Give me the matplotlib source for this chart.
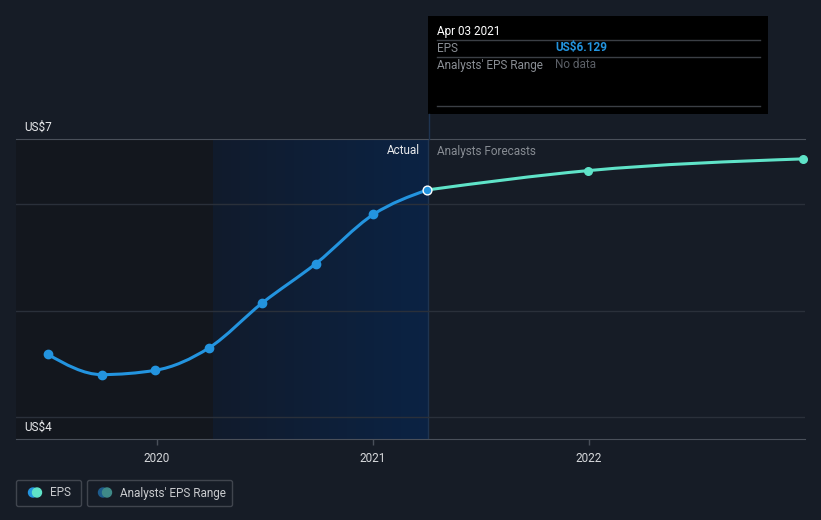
import matplotlib
matplotlib.use("Agg")

import matplotlib.pyplot as plt
import numpy as np
from matplotlib.colors import LinearSegmentedColormap
from matplotlib.path import Path
from matplotlib.patches import PathPatch, FancyBboxPatch, Circle, Rectangle

plt.rcParams["font.family"] = ["Roboto", "DejaVu Sans"]

BG = "#161c26"
BLUE = "#2394df"
MINT = "#5fe3c8"

# actual EPS (decimal year, US$)
actual_x = [2019.496, 2019.745, 2019.993, 2020.242, 2020.488, 2020.737, 2021.003, 2021.252]
actual_y = [4.59, 4.40, 4.44, 4.65, 5.07, 5.44, 5.90, 6.129]
# analyst forecasts
fc_x = [2021.252, 2021.997, 2022.993]
fc_y = [6.129, 6.31, 6.42]

year_ticks = [2020, 2021, 2022]
year_labels = ["2020", "2021", "2022"]
grid_vals = [4, 5, 6]

X0, X1 = 2019.349, 2023.0
Y0, Y1 = 3.797, 6.606
PAST_START = 2020.262
NOW = 2021.254


def monotone_path(xs, ys):
    """Cubic bezier path with monotone-x tangents (like d3 curveMonotoneX)."""
    x = np.asarray(xs, float)
    y = np.asarray(ys, float)
    n = len(x)
    h = np.diff(x)
    s = np.diff(y) / h
    t = np.zeros(n)
    for i in range(1, n - 1):
        if s[i - 1] * s[i] <= 0:
            t[i] = 0
        else:
            p = (s[i - 1] * h[i] + s[i] * h[i - 1]) / (h[i - 1] + h[i])
            t[i] = (np.sign(s[i - 1]) + np.sign(s[i])) * min(abs(s[i - 1]), abs(s[i]), 0.5 * abs(p))
    if n > 2:
        t[0] = (3 * s[0] - t[1]) / 2
        t[-1] = (3 * s[-1] - t[-2]) / 2
    else:
        t[0] = t[-1] = s[0]
    verts = [(x[0], y[0])]
    codes = [Path.MOVETO]
    for i in range(n - 1):
        d = h[i] / 3
        verts += [(x[i] + d, y[i] + d * t[i]), (x[i + 1] - d, y[i + 1] - d * t[i + 1]),
                  (x[i + 1], y[i + 1])]
        codes += [Path.CURVE4] * 3
    return Path(verts, codes)


fig = plt.figure(figsize=(8.21, 5.2), dpi=100, facecolor=BG)
ax = fig.add_axes([16 / 821, 81 / 520, 789 / 821, 300 / 520])
ax.set_facecolor(BG)
ax.set_xlim(X0, X1)
ax.set_ylim(Y0, Y1)

# shaded past regions
ax.axvspan(X0, PAST_START, color="#13171e", zorder=0, lw=0)
grad = np.linspace(0, 1, 256).reshape(1, -1)
cm = LinearSegmentedColormap.from_list("g", ["#111b2c", "#0b2344"])
ax.imshow(grad, cmap=cm, extent=[PAST_START, NOW, Y0, Y1], aspect="auto", zorder=0.5)
ax.axvline(NOW, color="#1f3450", lw=1, zorder=1)

for g in grid_vals:
    ax.axhline(g, color="#2a303a", lw=1, zorder=1)

for sp in ["left", "right"]:
    ax.spines[sp].set_visible(False)
ax.spines["top"].set_color("#4a505a")
ax.spines["bottom"].set_color("#4a505a")
ax.spines["top"].set_zorder(3)

ax.set_yticks([])
ax.set_xticks(year_ticks)
ax.set_xticklabels(year_labels, fontsize=8.5)
ax.tick_params(axis="x", colors="#4a505a", length=4, width=1, pad=5, labelcolor="#d6d8db")

ax.add_patch(PathPatch(monotone_path(fc_x, fc_y), fill=False, edgecolor=MINT, lw=2.2, zorder=4))
ax.add_patch(PathPatch(monotone_path(actual_x, actual_y), fill=False, edgecolor=BLUE, lw=2.2, zorder=4))
ax.scatter(fc_x[1:], fc_y[1:], s=30, color=MINT, zorder=5, clip_on=False)
ax.scatter(actual_x[:-1], actual_y[:-1], s=36, color=BLUE, zorder=5)
ax.scatter(actual_x[-1:], actual_y[-1:], s=40, color=BLUE, edgecolor="white", linewidth=1, zorder=6)

# overlay axes in pixel coordinates (y down) for labels, tooltip and legend
lax = fig.add_axes([0, 0, 1, 1], facecolor="none", zorder=5)
lax.set_xlim(0, 821)
lax.set_ylim(520, 0)
lax.axis("off")

lax.text(24, 127, "US$7", color="#e8e9eb", fontsize=8.5, va="center")
lax.text(24, 427, "US$4", color="#e8e9eb", fontsize=8.5, va="center")
lax.text(420, 151, "Actual", color="#e8e9eb", fontsize=8.5, va="center", ha="right")
lax.text(437, 151, "Analysts Forecasts", color="#878c93", fontsize=8.5, va="center")

# tooltip
lax.add_patch(Rectangle((428, 16), 340, 98, facecolor="black", edgecolor="none"))
lax.plot([429, 429], [114, 139], color="#1f3450", lw=1)
for yy in [40, 57, 106]:
    lax.plot([437, 760], [yy, yy], color="#3b3f45", lw=1)
lax.text(437, 31, "Apr 03 2021", color="white", fontsize=8.5, va="center")
lax.text(437, 48, "EPS", color="#8a8e94", fontsize=8.5, va="center")
lax.text(555, 48, "US$6.129", color=BLUE, fontsize=8.5, va="center", fontweight="bold")
lax.text(437, 65, "Analysts' EPS Range", color="#8a8e94", fontsize=8.5, va="center")
lax.text(555, 65, "No data", color="#5b5f66", fontsize=8.5, va="center")

# legend
for x0, w in [(16.5, 65), (87.5, 145)]:
    lax.add_patch(FancyBboxPatch((x0, 480.5), w, 26, boxstyle="round,pad=0,rounding_size=2",
                                 facecolor="none", edgecolor="#40454e", lw=1))
for cx, c1, c2 in [(35, BLUE, MINT), (105, "#1d5b8c", "#3f8a88")]:
    lax.add_patch(Circle((cx - 2, 492.5), 4.5, color=c1))
    lax.add_patch(Circle((cx + 2, 492.5), 4.5, color=c2))
lax.text(50, 493, "EPS", color="#c9cbce", fontsize=8.5, va="center")
lax.text(120, 493, "Analysts' EPS Range", color="#c9cbce", fontsize=8.5, va="center")

fig.savefig("out.png", dpi=100, facecolor=BG)
